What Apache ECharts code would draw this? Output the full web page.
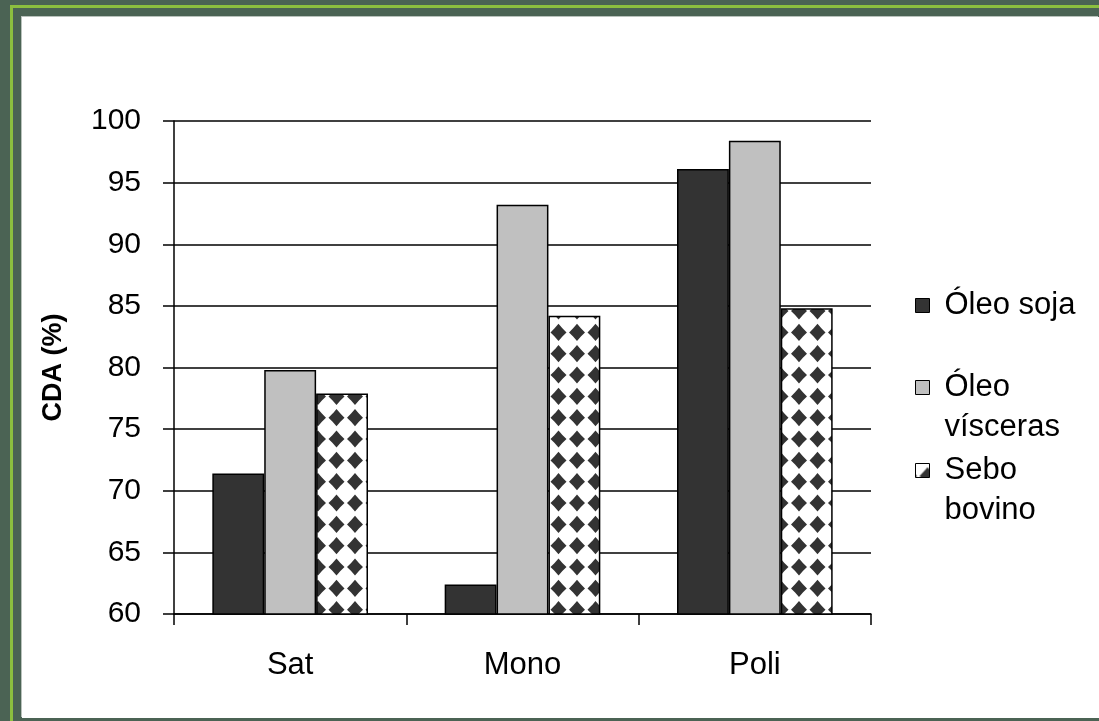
<!DOCTYPE html>
<html>
<head>
<meta charset="utf-8">
<script src="https://cdn.jsdelivr.net/npm/echarts@6/dist/echarts.min.js"></script>
<style>
  html, body { margin: 0; padding: 0; }
  body { width: 1099px; height: 721px; background: #4b6354; position: relative; overflow: hidden; }
  .rule-h { position: absolute; left: 10px; top: 5px; width: 1089px; height: 3px; background: #8cbf3f; }
  .rule-v { position: absolute; left: 10px; top: 5px; width: 3px; height: 716px; background: #8cbf3f; }
  .sheet { position: absolute; left: 22px; top: 17px; width: 1077px; height: 701px; background: #ffffff; box-shadow: -1px -1px 0 #b9c2bc; }
  #chart { position: absolute; left: 0; top: 0; width: 1099px; height: 721px; }
</style>
</head>
<body>
<div class="rule-h"></div>
<div class="rule-v"></div>
<div class="sheet"></div>
<div id="chart"></div>
<script>
// Fatty-acid digestibility (CDA, %) by fraction and fat source
const categories = ['Sat', 'Mono', 'Poli'];
const seriesNames = ['Óleo soja', 'Óleo vísceras', 'Sebo bovino'];
const oleoSoja = [71.4, 62.4, 96.1];
const oleoVisceras = [79.8, 93.2, 98.4];
const seboBovino = [77.9, 84.2, 84.8];
const yTicks = { min: 60, max: 100, step: 5 };

// Diamond pattern tile for the third series
function diamondTile() {
  const c = document.createElement('canvas');
  c.width = 37; c.height = 64;
  const g = c.getContext('2d');
  g.fillStyle = '#ffffff';
  g.fillRect(0, 0, c.width, c.height);
  g.fillStyle = '#333333';
  const xs = [3.5, 22, 40.5, -15];
  const ys = [12.4, 33.7, 55, 76.3, -8.9];
  const rx = 8, ry = 8.6, nx = 3.9, ny = 4.1;
  xs.forEach(function (cx) {
    ys.forEach(function (cy) {
      g.beginPath();
      g.moveTo(cx, cy - ry);
      g.lineTo(cx + nx, cy - ny);
      g.lineTo(cx + rx, cy);
      g.lineTo(cx + nx, cy + ny);
      g.lineTo(cx, cy + ry);
      g.lineTo(cx - nx, cy + ny);
      g.lineTo(cx - rx, cy);
      g.lineTo(cx - nx, cy - ny);
      g.closePath();
      g.fill();
    });
  });
  return c;
}

const font = 'Liberation Sans, Arial, sans-serif';
const fills = ['#333333', '#c0c0c0', { image: diamondTile(), repeat: 'repeat' }];
const values = [oleoSoja, oleoVisceras, seboBovino];
// icon centre of each legend entry
const legendCentres = [298, 380, 463];

const chart = echarts.init(document.getElementById('chart'), null, { renderer: 'canvas' });

chart.setOption({
  backgroundColor: 'transparent',
  animation: false,
  grid: { left: 174, top: 121, right: 228, bottom: 107 },
  legend: seriesNames.map(function (name, i) {
    const lines = i === 0 ? 1 : 3;
    return {
      data: [name],
      left: 910,
      top: legendCentres[i] - lines * 20,
      orient: 'vertical',
      icon: 'path://M0,0H10V10H0Z',
      itemWidth: 34,
      itemHeight: 14,
      itemGap: 0,
      selectedMode: false,
      itemStyle: { borderColor: '#000', borderWidth: 1 },
      formatter: function (n) {
        return i === 0 ? n : '\n' + n.split(' ').join('\n');
      },
      textStyle: { fontFamily: font, fontSize: 31, color: '#000', lineHeight: 40, padding: [5, 0, 0, 0] }
    };
  }),
  xAxis: {
    type: 'category',
    data: categories,
    axisLine: { lineStyle: { color: '#000', width: 1.5 } },
    axisTick: { show: true, length: 11, lineStyle: { color: '#000', width: 1.5 } },
    axisLabel: { margin: 36, fontFamily: font, fontSize: 31, color: '#000' }
  },
  yAxis: {
    type: 'value',
    min: yTicks.min,
    max: yTicks.max,
    interval: yTicks.step,
    name: 'CDA (%)',
    nameLocation: 'middle',
    nameRotate: 90,
    nameGap: 107,
    nameTextStyle: { fontFamily: font, fontSize: 27, fontWeight: 'bold', color: '#000' },
    axisLine: { show: true, lineStyle: { color: '#000', width: 1.5 } },
    axisTick: { show: true, length: 11, lineStyle: { color: '#000', width: 1.5 } },
    axisLabel: { margin: 33, fontFamily: font, fontSize: 30, color: '#000' },
    splitLine: { show: true, lineStyle: { color: '#000', width: 1.5 } }
  },
  series: seriesNames.map(function (name, i) {
    return {
      name: name,
      type: 'bar',
      data: values[i],
      barGap: '0%',
      barCategoryGap: '33%',
      itemStyle: { color: fills[i], borderColor: '#000', borderWidth: 1.5 }
    };
  })
});
</script>
</body>
</html>
